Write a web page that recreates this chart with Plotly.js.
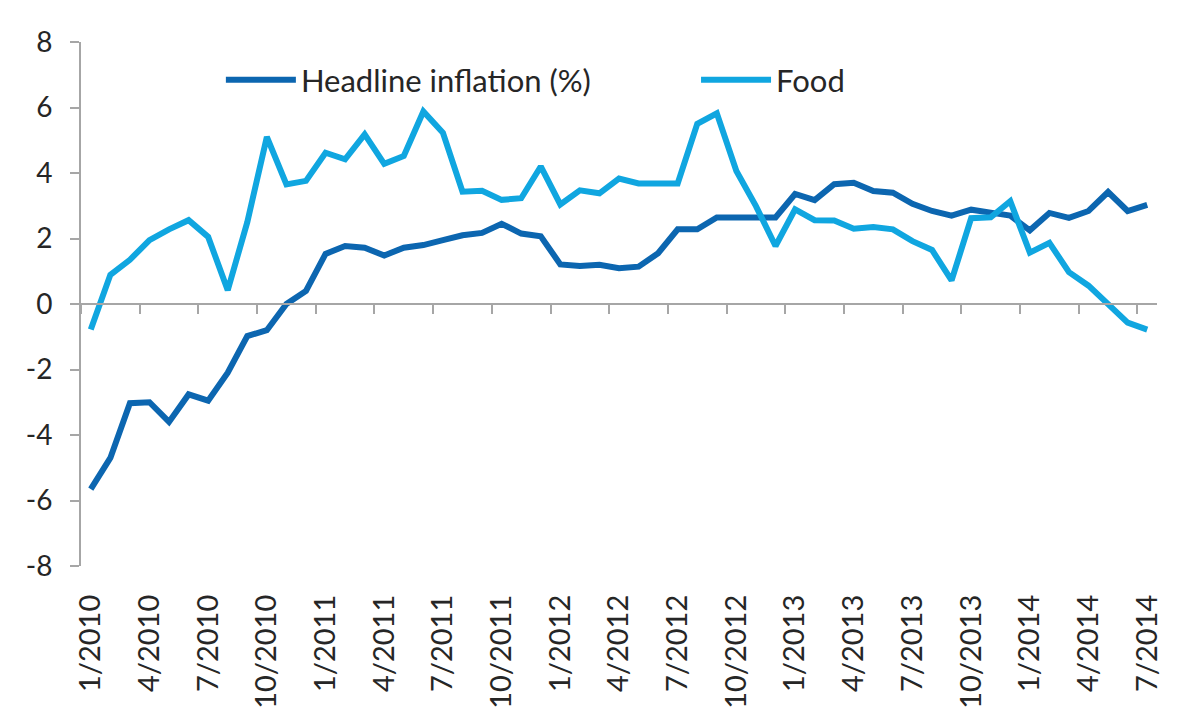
<!DOCTYPE html>
<html>
<head>
<meta charset="utf-8">
<script src="https://cdn.plot.ly/plotly-3.0.1.min.js"></script>
<style>
  html, body { margin: 0; padding: 0; background: #ffffff; }
  #chart { width: 1200px; height: 718px; }
</style>
</head>
<body>
<div id="chart"></div>
<script>
// Months Jan 2010 .. Jul 2014 (55 monthly points)
const months = [
  "1/2010","2/2010","3/2010","4/2010","5/2010","6/2010","7/2010","8/2010","9/2010","10/2010","11/2010","12/2010",
  "1/2011","2/2011","3/2011","4/2011","5/2011","6/2011","7/2011","8/2011","9/2011","10/2011","11/2011","12/2011",
  "1/2012","2/2012","3/2012","4/2012","5/2012","6/2012","7/2012","8/2012","9/2012","10/2012","11/2012","12/2012",
  "1/2013","2/2013","3/2013","4/2013","5/2013","6/2013","7/2013","8/2013","9/2013","10/2013","11/2013","12/2013",
  "1/2014","2/2014","3/2014","4/2014","5/2014","6/2014","7/2014"
];

const headline = [
  -5.65, -4.7, -3.03, -3.0, -3.6, -2.76, -2.95, -2.1, -0.98, -0.8, 0.0, 0.4,
  1.53, 1.77, 1.72, 1.48, 1.72, 1.8, 1.95, 2.1, 2.17, 2.45, 2.15, 2.07,
  1.21, 1.16, 1.2, 1.09, 1.14, 1.55, 2.28, 2.28, 2.64, 2.64, 2.64, 2.64,
  3.36, 3.17, 3.66, 3.7, 3.45, 3.4, 3.06, 2.84, 2.7, 2.88, 2.79, 2.7,
  2.25, 2.78, 2.63, 2.84, 3.42, 2.84, 3.03
];

const food = [
  -0.78, 0.89, 1.35, 1.95, 2.28, 2.56, 2.05, 0.42, 2.5, 5.1, 3.65, 3.76,
  4.62, 4.42, 5.18, 4.28, 4.52, 5.88, 5.23, 3.43, 3.46, 3.18, 3.23, 4.2,
  3.04, 3.47, 3.38, 3.83, 3.68, 3.68, 3.68, 5.5, 5.82, 4.06, 2.99, 1.77,
  2.89, 2.56, 2.55, 2.3, 2.35, 2.28, 1.92, 1.65, 0.72, 2.62, 2.65, 3.14,
  1.57, 1.87, 0.97, 0.56, 0.0, -0.57, -0.78
];

const yTickVals = [-8, -6, -4, -2, 0, 2, 4, 6, 8];
const yTickText = ["-8", "-6", "-4", "-2", "0", "2", "4", "6", "8"];

const seriesNames = ["Headline inflation (%)", "Food"];
const seriesColors = ["#0c66b0", "#10a6e0"];

const idx = months.map((m, i) => i);
const labelIdx = idx.filter(i => i % 3 === 0);
const labelText = labelIdx.map(i => months[i]);
const tickBounds = labelIdx.map(i => i - 0.5);

const FONT = "Lato, 'Open Sans', 'Liberation Sans', sans-serif";

const traces = [
  { x: idx, y: headline, name: seriesNames[0], type: "scatter", mode: "lines",
    line: { color: seriesColors[0], width: 6 }, xaxis: "x", yaxis: "y", legend: "legend" },
  { x: idx, y: food, name: seriesNames[1], type: "scatter", mode: "lines",
    line: { color: seriesColors[1], width: 6 }, xaxis: "x2", yaxis: "y", legend: "legend2" }
];

const xr = [-0.5, months.length - 0.5];
const legendFont = { family: FONT, size: 31, color: "#262626" };

const layout = {
  width: 1200, height: 718,
  paper_bgcolor: "#ffffff", plot_bgcolor: "#ffffff",
  margin: { l: 81, r: 43, t: 42, b: 152 },
  font: { family: FONT, color: "#262626", size: 24 },
  showlegend: true,
  legend: {
    orientation: "h", x: 0.13, y: 0.9275, xanchor: "left", yanchor: "middle",
    font: legendFont, itemwidth: 70, bgcolor: "rgba(0,0,0,0)", borderwidth: 0
  },
  legend2: {
    orientation: "h", x: 0.5716, y: 0.9275, xanchor: "left", yanchor: "middle",
    font: legendFont, itemwidth: 70, bgcolor: "rgba(0,0,0,0)", borderwidth: 0
  },
  xaxis: {
    range: xr, anchor: "free", position: 0.5,
    showline: true, linecolor: "#a6a6a6", linewidth: 2,
    ticks: "outside", ticklen: 9, tickwidth: 2, tickcolor: "#a6a6a6",
    tickmode: "array", tickvals: tickBounds, showticklabels: false,
    showgrid: false, zeroline: false
  },
  xaxis2: {
    range: xr, overlaying: "x", anchor: "y", side: "bottom",
    showline: false, ticks: "", tickmode: "array", tickvals: labelIdx, ticktext: labelText,
    tickangle: -90, ticklabelstandoff: 22,
    tickfont: { family: FONT, size: 29, color: "#262626" },
    showgrid: false, zeroline: false
  },
  yaxis: {
    range: [-8, 8], tickmode: "array", tickvals: yTickVals, ticktext: yTickText,
    showline: true, linecolor: "#a6a6a6", linewidth: 2,
    ticks: "outside", ticklen: 9, tickwidth: 2, tickcolor: "#a6a6a6",
    ticklabelstandoff: 12,
    tickfont: { family: FONT, size: 28, color: "#262626" },
    showgrid: false, zeroline: false
  }
};

Plotly.newPlot("chart", traces, layout, { displayModeBar: false, staticPlot: true });
</script>
</body>
</html>
